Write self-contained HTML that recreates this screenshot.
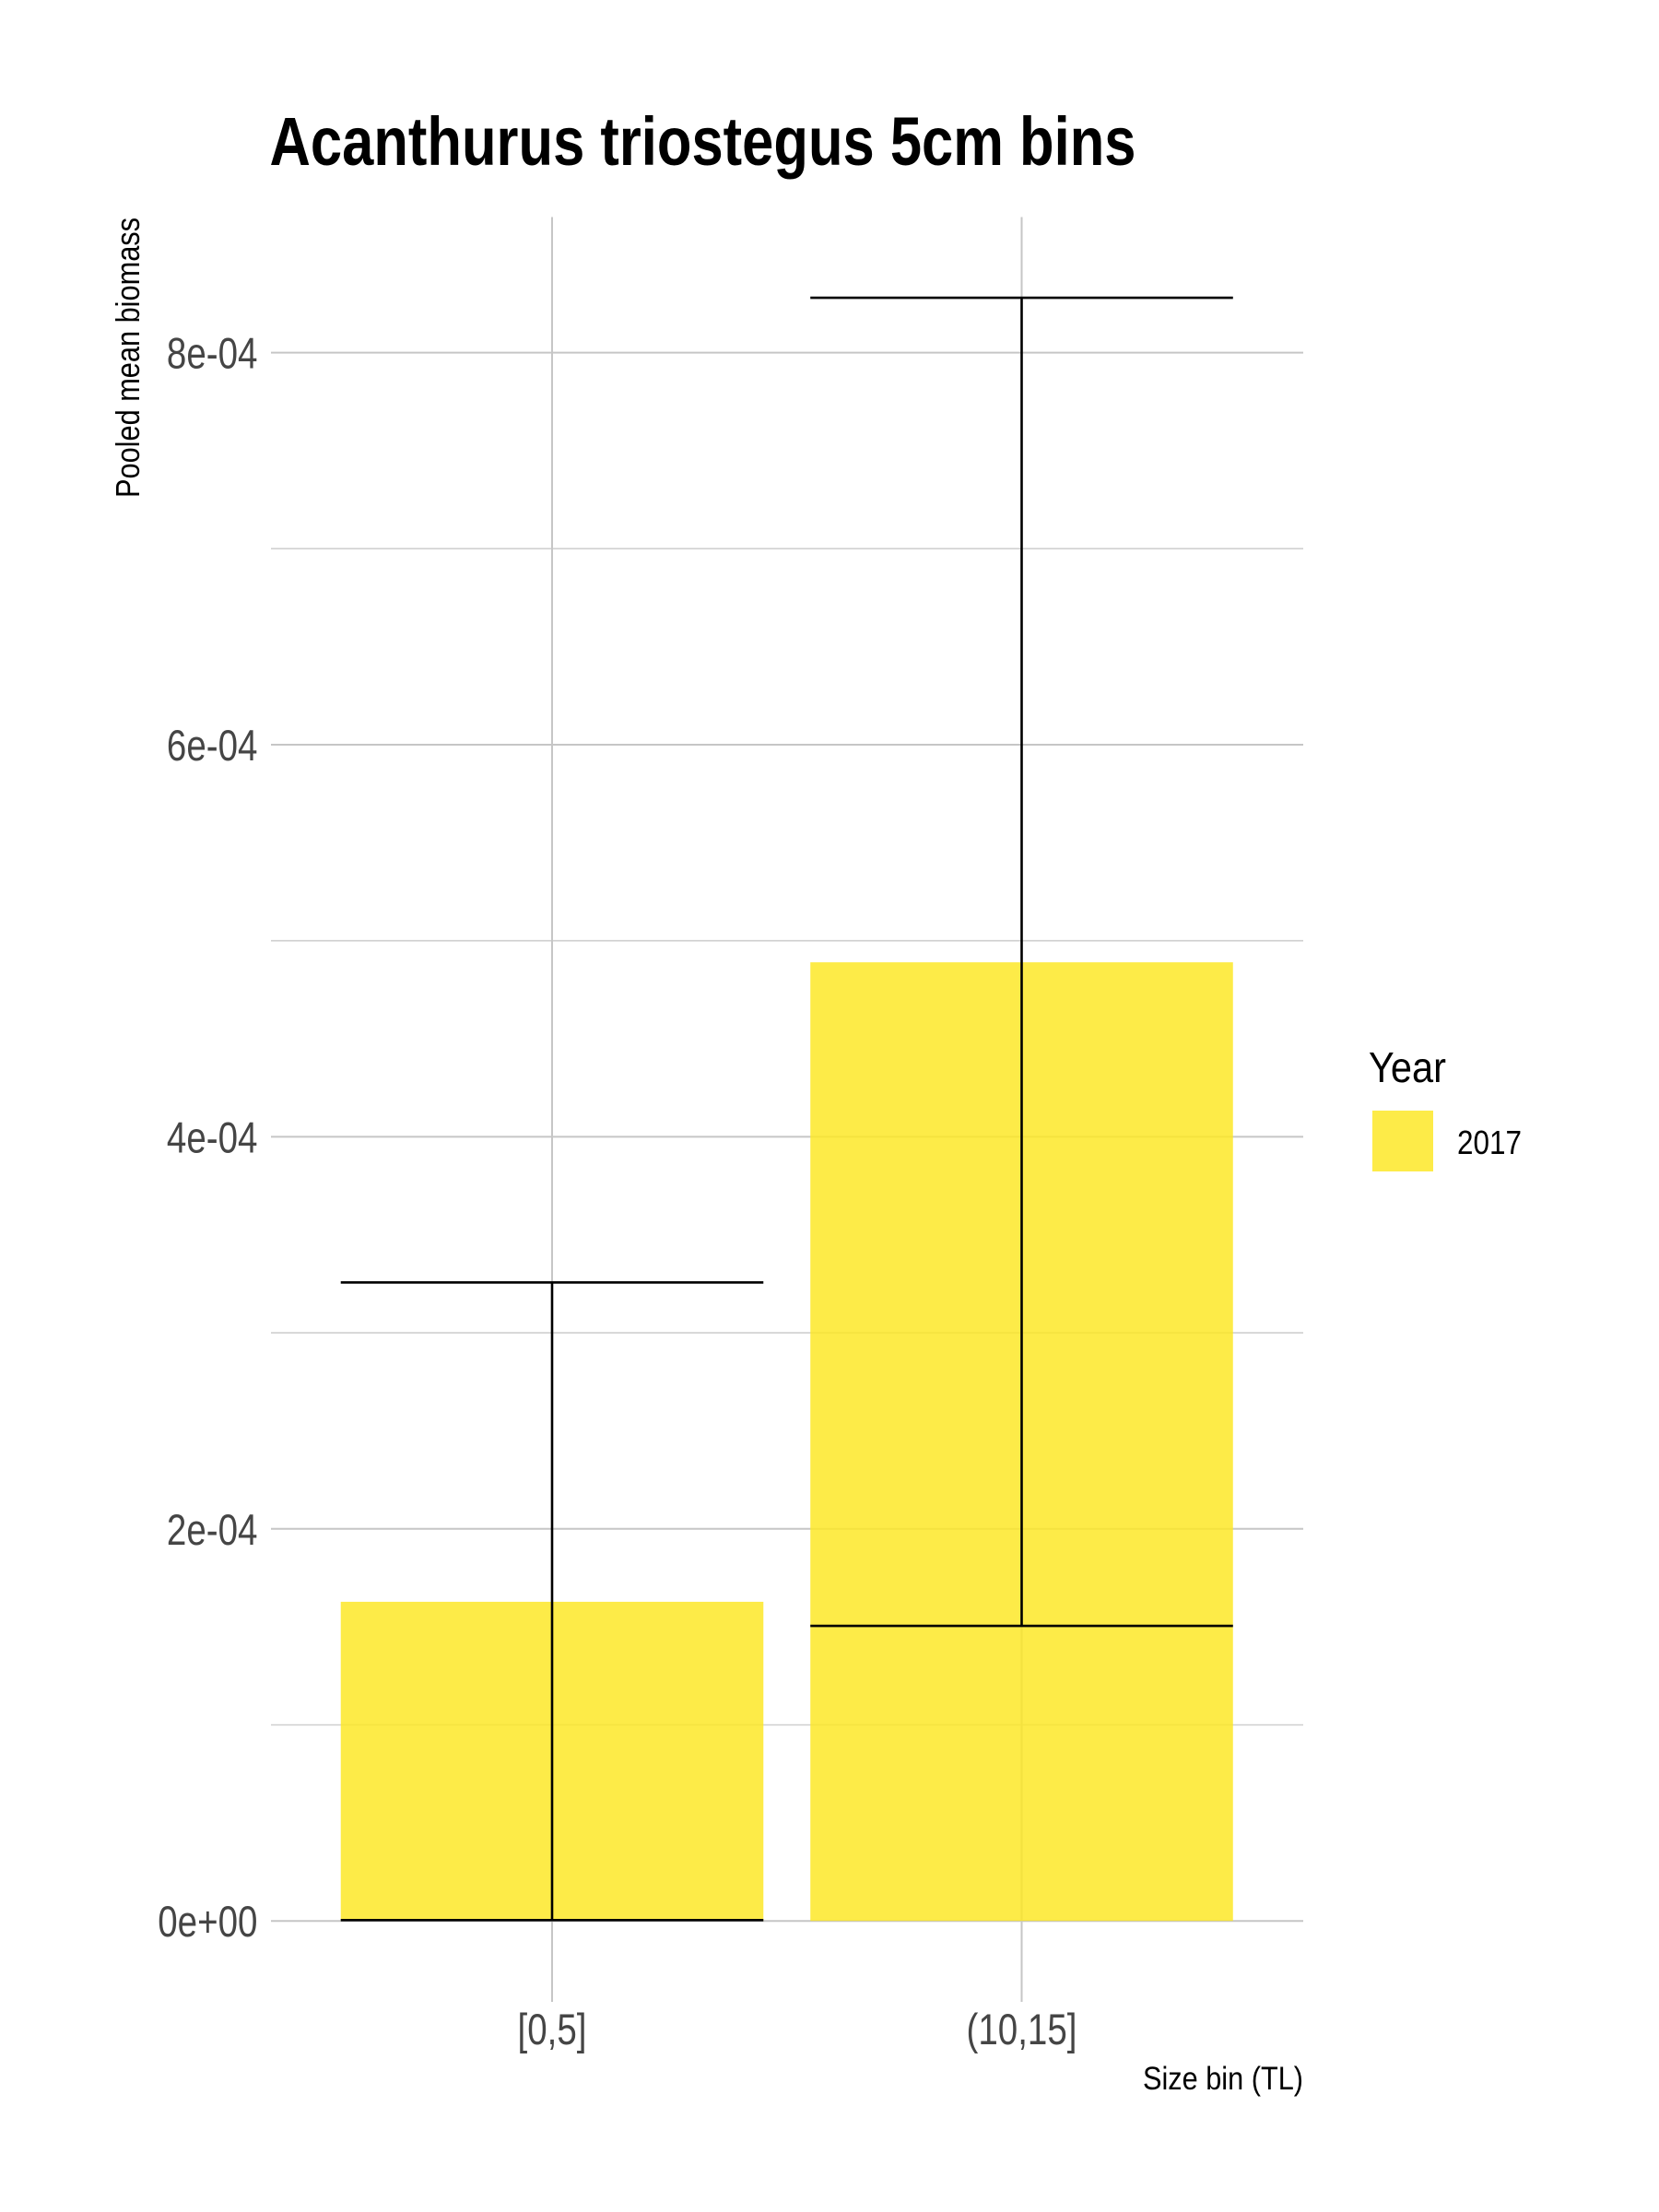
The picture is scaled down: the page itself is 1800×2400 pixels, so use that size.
<!DOCTYPE html>
<html lang="en">
<head>
<meta charset="utf-8">
<title>Acanthurus triostegus 5cm bins</title>
<style>
html,body{margin:0;padding:0;background:#fff;}
svg{display:block;font-family:"Liberation Sans",Arial,sans-serif;}
</style>
</head>
<body>
<svg id="chart" xmlns="http://www.w3.org/2000/svg" width="1800" height="2400" viewBox="0 0 1800 2400">
  <rect x="0" y="0" width="1800" height="2400" fill="#ffffff"/>
  <g id="grid"></g>
  <g id="bars"></g>
  <g id="errors"></g>
  <g id="yticks"></g>
  <g id="xticks"></g>
  <text x="292.5" y="179" font-size="74" font-weight="700" fill="#000" textLength="940" lengthAdjust="spacingAndGlyphs">Acanthurus triostegus 5cm bins</text>
  <text transform="translate(151,540) rotate(-90)" font-size="36" fill="#000" textLength="304" lengthAdjust="spacingAndGlyphs">Pooled mean biomass</text>
  <text x="1414" y="2267" text-anchor="end" font-size="35" fill="#000" textLength="174" lengthAdjust="spacingAndGlyphs">Size bin (TL)</text>
  <g>
    <text x="1485" y="1174" font-size="46" fill="#000" textLength="84" lengthAdjust="spacingAndGlyphs">Year</text>
    <rect x="1489" y="1205" width="66" height="66" fill="#fde725" fill-opacity="0.84"/>
    <text x="1581" y="1252" font-size="36" fill="#000" textLength="70" lengthAdjust="spacingAndGlyphs">2017</text>
  </g>
</svg>
<script>
const categories = ['[0,5]', '(10,15]'];
const meanBiomass = [1.628e-4, 4.89e-4];
const lowerError = [0.004e-4, 1.505e-4];
const upperError = [3.257e-4, 8.28e-4];
const majorTicks = [0, 2e-4, 4e-4, 6e-4, 8e-4];
const minorTicks = [1e-4, 3e-4, 5e-4, 7e-4];
const yTickLabels = ['0e+00', '2e-04', '4e-04', '6e-04', '8e-04'];

const NS = 'http://www.w3.org/2000/svg';
const panelLeft = 294, panelRight = 1414, panelTop = 235.5, panelBottom = 2172;
const yZero = 2084.2, pxPerUnit = 212.7 / 1e-4;
const firstCat = 599, catStep = 509.5, barWidth = 0.9 * catStep;
function yScale(v) { return yZero - v * pxPerUnit; }
function xScale(i) { return firstCat + i * catStep; }
function make(tag, attrs, parent) {
  const el = document.createElementNS(NS, tag);
  for (const k in attrs) el.setAttribute(k, attrs[k]);
  parent.appendChild(el);
  return el;
}
const grid = document.getElementById('grid');
const bars = document.getElementById('bars');
const errors = document.getElementById('errors');
const yticks = document.getElementById('yticks');
const xticks = document.getElementById('xticks');

minorTicks.forEach(function (v) {
  const l = make('line', { x1: panelLeft, x2: panelRight, y1: yScale(v), y2: yScale(v), stroke: '#cfcfcf', 'stroke-width': 1.6 }, grid);
  
  
});
majorTicks.forEach(function (v, i) {
  const l = make('line', { x1: panelLeft, x2: panelRight, y1: yScale(v), y2: yScale(v), stroke: '#c6c6c6', 'stroke-width': 2 }, grid);
  
  
  const t = make('text', { x: 279.5, y: yScale(v) + 17, 'text-anchor': 'end', 'font-size': 47, fill: '#454545', lengthAdjust: 'spacingAndGlyphs' }, yticks);
  
  
  t.textContent = yTickLabels[i];
  t.setAttribute('textLength', t.getComputedTextLength() * 0.82);
});
categories.forEach(function (c, i) {
  const x = xScale(i);
  const l = make('line', { x1: x, x2: x, y1: panelTop, y2: panelBottom, stroke: '#c6c6c6', 'stroke-width': 2 }, grid);
  
  

  const r = make('rect', { x: x - barWidth / 2, y: yScale(meanBiomass[i]), width: barWidth, height: yZero - yScale(meanBiomass[i]), fill: '#fde725', 'fill-opacity': 0.84 }, bars);
  
  

  const lo = yScale(lowerError[i]), hi = yScale(upperError[i]);
  const stem = make('line', { x1: x, x2: x, y1: lo, y2: hi, stroke: '#000', 'stroke-width': 2.6 }, errors);
  
  
  const capTop = make('line', { x1: x - barWidth / 2, x2: x + barWidth / 2, y1: hi, y2: hi, stroke: '#000', 'stroke-width': 2.6 }, errors);
  
  
  const capLow = make('line', { x1: x - barWidth / 2, x2: x + barWidth / 2, y1: lo, y2: lo, stroke: '#000', 'stroke-width': 2.6 }, errors);
  
  

  const t = make('text', { x: x, y: 2218, 'text-anchor': 'middle', 'font-size': 47, fill: '#454545', lengthAdjust: 'spacingAndGlyphs' }, xticks);
  
  
  t.textContent = c;
  t.setAttribute('textLength', t.getComputedTextLength() * 0.82);
});
</script>
</body>
</html>
